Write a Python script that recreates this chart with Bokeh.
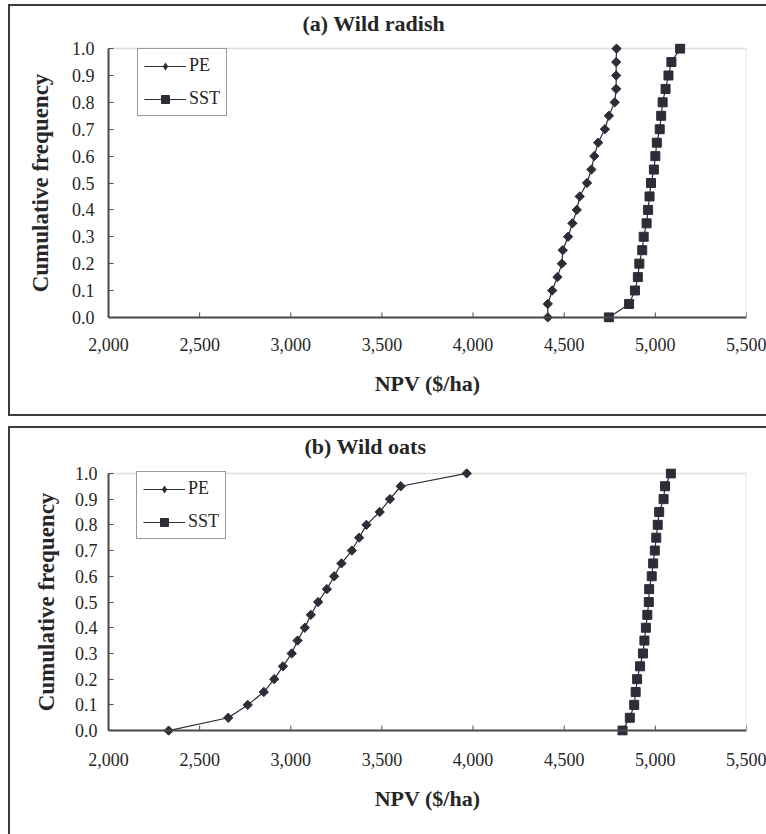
from bokeh.plotting import figure
from bokeh.models import (Range1d, NumeralTickFormatter, FixedTicker, BoxAnnotation,
                          Legend, LegendItem, Title, Span)
from bokeh.layouts import column
from bokeh.embed import file_html
from bokeh.resources import INLINE

# ---------------- data ----------------
cum_freq = [0.00, 0.05, 0.10, 0.15, 0.20, 0.25, 0.30, 0.35, 0.40, 0.45, 0.50,
            0.55, 0.60, 0.65, 0.70, 0.75, 0.80, 0.85, 0.90, 0.95, 1.00]

radish_pe = [4410, 4410, 4434, 4463, 4487, 4492, 4521, 4545, 4569, 4585, 4625,
             4649, 4665, 4686, 4723, 4745, 4777, 4785, 4785, 4785, 4787]
radish_sst = [4745, 4856, 4888, 4904, 4912, 4928, 4936, 4952, 4960, 4968, 4976,
              4992, 5000, 5008, 5024, 5032, 5040, 5056, 5072, 5088, 5136]

oats_pe = [2330, 2657, 2764, 2852, 2909, 2957, 3005, 3037, 3077, 3110, 3150,
           3198, 3238, 3278, 3335, 3375, 3415, 3488, 3544, 3603, 3965]
oats_sst = [4820, 4860, 4884, 4892, 4900, 4916, 4932, 4940, 4948, 4956, 4964,
            4966, 4980, 4988, 4997, 5005, 5013, 5021, 5045, 5053, 5085]

x_ticks = [2000, 2500, 3000, 3500, 4000, 4500, 5000, 5500]
y_ticks = [0.0, 0.1, 0.2, 0.3, 0.4, 0.5, 0.6, 0.7, 0.8, 0.9, 1.0]

titles = ["(a) Wild radish", "(b) Wild oats"]
series_names = ["PE", "SST"]
x_label = "NPV ($/ha)"
y_label = "Cumulative frequency"

# ---------------- style ----------------
FONT = "Liberation Serif"
MARK = "#2d2d38"
TXT = "#262626"
AX = "#4a4a4a"
FRAME = "#a3928e"
BOX = "#3c3c3c"
W = 766
X0, X1 = x_ticks[0], x_ticks[-1]
Y0, Y1 = y_ticks[0], y_ticks[-1]
PAD = 0.019
TICK_PX = 5


def panel(title, pe, sst, height, b_left, b_top, b_bottom, title_off, title_standoff,
          xtick_standoff, xlab_standoff, ytick_standoff, ylab_standoff,
          legend_xy, box_shadow):
    p = figure(width=W, height=height, output_backend="svg", toolbar_location=None,
               x_range=Range1d(X0, X1), y_range=Range1d(Y0 - PAD, Y1 + PAD),
               min_border_left=b_left, min_border_right=20,
               min_border_top=b_top, min_border_bottom=b_bottom)
    p.outline_line_color = None
    p.xgrid.visible = False
    p.ygrid.visible = False
    p.background_fill_color = "white"
    p.border_fill_alpha = 0
    # outer chart box, drawn behind the transparent canvas border area
    p.styles = {"box-shadow": box_shadow, "background-color": "white"}

    p.add_layout(Title(text=title, align="left", offset=title_off,
                       standoff=title_standoff,
                       text_font=FONT, text_font_size="22px",
                       text_font_style="bold", text_color=TXT), "above")

    # plot-area frame (top/right brownish lines)
    p.add_layout(BoxAnnotation(left=X0, right=X1, bottom=Y0, top=Y1,
                               fill_alpha=0, line_color=FRAME, line_width=1.5,
                               level="underlay"))

    frame_h = height - b_top - b_bottom
    tick_len = TICK_PX * (Y1 - Y0 + 2 * PAD) / frame_h

    # x axis line drawn at y = 0 with inward ticks
    p.add_layout(Span(location=Y0, dimension="width", line_color=AX, line_width=2))
    p.segment(x0=x_ticks, y0=[Y0] * len(x_ticks), x1=x_ticks,
              y1=[Y0 + tick_len] * len(x_ticks), line_color=AX, line_width=1)

    xa = p.xaxis[0]
    xa.ticker = FixedTicker(ticks=x_ticks)
    xa.formatter = NumeralTickFormatter(format="0,0")
    xa.axis_line_color = None
    xa.major_tick_line_color = None
    xa.minor_tick_line_color = None
    xa.major_tick_in = 0
    xa.major_tick_out = 0
    xa.axis_label = x_label
    xa.axis_label_text_font = FONT
    xa.axis_label_text_font_size = "22px"
    xa.axis_label_text_font_style = "bold"
    xa.axis_label_text_color = TXT
    xa.axis_label_standoff = xlab_standoff
    xa.major_label_standoff = xtick_standoff
    xa.major_label_text_font = FONT
    xa.major_label_text_font_size = "18px"
    xa.major_label_text_color = TXT

    ya = p.yaxis[0]
    ya.ticker = FixedTicker(ticks=y_ticks)
    ya.formatter = NumeralTickFormatter(format="0.0")
    ya.bounds = (Y0, Y1)
    ya.axis_line_color = AX
    ya.axis_line_width = 2
    ya.major_tick_line_color = AX
    ya.major_tick_line_width = 1
    ya.major_tick_in = TICK_PX
    ya.major_tick_out = 0
    ya.minor_tick_line_color = None
    ya.axis_label = y_label
    ya.axis_label_text_font = FONT
    ya.axis_label_text_font_size = "23px"
    ya.axis_label_text_font_style = "bold"
    ya.axis_label_text_color = TXT
    ya.axis_label_standoff = ylab_standoff
    ya.major_label_standoff = ytick_standoff
    ya.major_label_text_font = FONT
    ya.major_label_text_font_size = "18px"
    ya.major_label_text_color = TXT

    l1 = p.line(pe, cum_freq, line_color=MARK, line_width=1.2)
    p.scatter(pe, cum_freq, marker="square", angle=0.7854, size=6.6,
              fill_color=MARK, line_color=MARK)
    # diamond used only for the legend symbol (size 0 in the plot)
    d1 = p.scatter(pe, cum_freq, marker="diamond", size=0,
                   fill_color=MARK, line_color=MARK, line_alpha=0)
    l2 = p.line(sst, cum_freq, line_color=MARK, line_width=1.2)
    s2 = p.scatter(sst, cum_freq, marker="square", size=9,
                   fill_color=MARK, line_color=MARK)

    legend = Legend(items=[LegendItem(label=series_names[0], renderers=[l1, d1]),
                           LegendItem(label=series_names[1], renderers=[l2, s2])],
                    location=legend_xy, orientation="vertical",
                    border_line_color="#333333", border_line_width=1,
                    background_fill_color="white", background_fill_alpha=1,
                    label_text_font=FONT, label_text_font_size="18px",
                    label_text_color=TXT, glyph_width=42, glyph_height=20,
                    label_height=19, padding=6, spacing=12, label_standoff=3,
                    margin=0)
    p.add_layout(legend)
    return p


shadow_a = ("inset 8px 0 0 0 #fff, inset 0 4px 0 0 #fff, inset 0 -4px 0 0 #fff, "
            f"inset 10px 0 0 0 {BOX}, inset 0 6px 0 0 {BOX}, inset 0 -6px 0 0 {BOX}")
shadow_b = ("inset 8px 0 0 0 #fff, inset 0 6px 0 0 #fff, "
            f"inset 10px 0 0 0 {BOX}, inset 0 8px 0 0 {BOX}")

p1 = panel(titles[0], radish_pe, radish_sst, 420, 104, 43, 98, 194, 15,
           15, 17, 14, 16, (29, 206), shadow_a)
p2 = panel(titles[1], oats_pe, oats_sst, 414, 108, 48, 99, 196, 19,
           17, 17, 11, 13, (28, 196), shadow_b)

layout = column(p1, p2)

open("out.html", "w").write(file_html(layout, INLINE))
